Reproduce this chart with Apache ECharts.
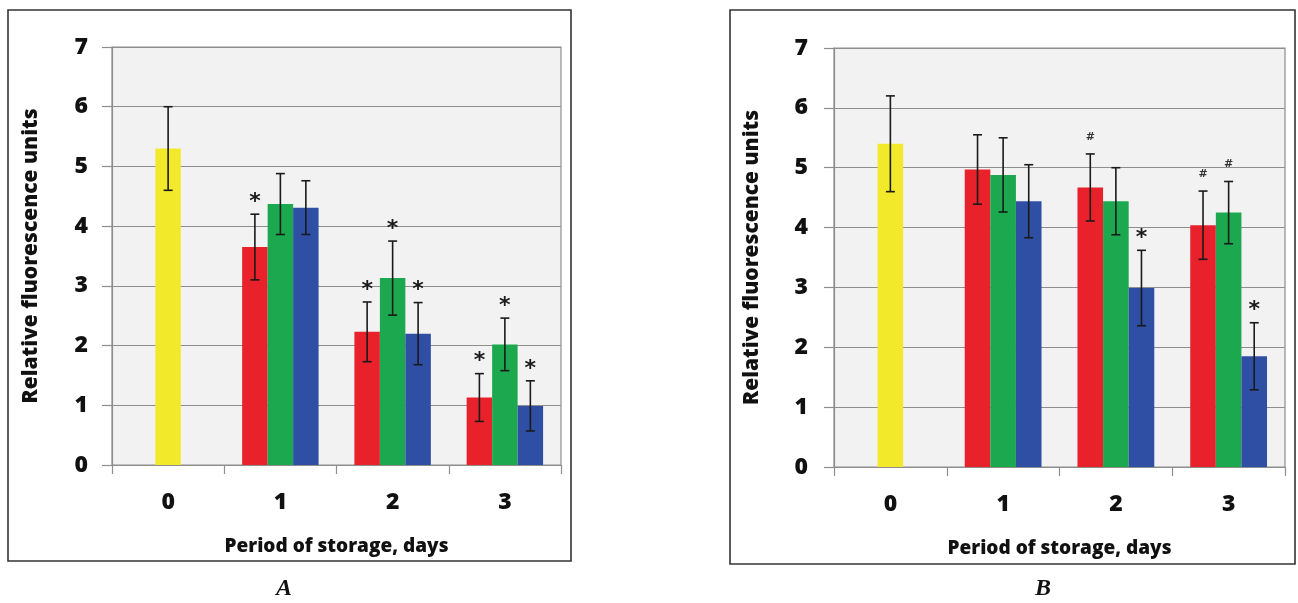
<!DOCTYPE html>
<html><head><meta charset="utf-8">
<script src="https://cdn.jsdelivr.net/npm/echarts@6/dist/echarts.min.js"></script>
<style>html,body{margin:0;padding:0;background:#fff}#c{width:1298px;height:603px}</style>
</head><body><div id="c"></div>
<script>
// ---- data ----
const categories = ['0', '1', '2', '3'];
const xAxisTitle = 'Period of storage, days';
const yAxisTitle = 'Relative fluorescence units';
const panelLabels = ['A', 'B'];

// Panel A
const controlA    = [5.30, null, null, null];
const controlErrA = [0.70, null, null, null];
const redA        = [null, 3.65, 2.23, 1.13];
const redErrA     = [null, 0.55, 0.50, 0.40];
const greenA      = [null, 4.37, 3.13, 2.02];
const greenErrA   = [null, 0.51, 0.62, 0.44];
const blueA       = [null, 4.31, 2.20, 0.99];
const blueErrA    = [null, 0.45, 0.52, 0.42];
const redMarkA    = ['', '*', '*', '*'];
const greenMarkA  = ['', '', '*', '*'];
const blueMarkA   = ['', '', '*', '*'];

// Panel B
const controlB    = [5.40, null, null, null];
const controlErrB = [0.80, null, null, null];
const redB        = [null, 4.97, 4.67, 4.04];
const redErrB     = [null, 0.58, 0.56, 0.57];
const greenB      = [null, 4.88, 4.44, 4.25];
const greenErrB   = [null, 0.62, 0.56, 0.52];
const blueB       = [null, 4.44, 2.99, 1.85];
const blueErrB    = [null, 0.61, 0.63, 0.56];
const redMarkB    = ['', '', '#', '#'];
const greenMarkB  = ['', '', '', '#'];
const blueMarkB   = ['', '', '*', '*'];

// ---- styling ----
const YELLOW = '#f3e92b', RED = '#e8212a', GREEN = '#1ca84e', BLUE = '#2f4fa4';
const GRIDC = '#8e8e8e';
const BAR_FRAC = 0.227;
const FONT = '"Open Sans", "DejaVu Sans", sans-serif';

const chart = echarts.init(document.getElementById('c'));

function xAxes(gridIndex) {
  return [{
    type: 'category', gridIndex: gridIndex, data: categories, boundaryGap: true,
    axisLine: { show: true, lineStyle: { color: GRIDC, width: 1.2 } },
    axisTick: { show: true, length: 9, lineStyle: { color: GRIDC, width: 1.2 } },
    axisLabel: { margin: 26, color: '#111', fontSize: 23, fontWeight: 800, fontFamily: FONT },
    splitLine: { show: false },
    name: xAxisTitle, nameLocation: 'middle', nameGap: 72,
    nameTextStyle: { color: '#111', fontSize: 19, fontWeight: 800, fontFamily: FONT }
  }, {
    type: 'category', gridIndex: gridIndex, data: categories, show: false
  }];
}
function yAxis(gridIndex, labelMargin, nameGap) {
  return {
    type: 'value', gridIndex: gridIndex, min: 0, max: 7, interval: 1,
    axisLine: { show: true, lineStyle: { color: GRIDC, width: 1.2 } },
    axisTick: { show: true, length: 10, lineStyle: { color: GRIDC, width: 1.2 } },
    axisLabel: { margin: labelMargin, color: '#111', fontSize: 23, fontWeight: 800, fontFamily: FONT },
    splitLine: { show: true, lineStyle: { color: GRIDC, width: 1.2 } },
    name: yAxisTitle, nameLocation: 'middle', nameGap: nameGap, nameRotate: 90,
    nameTextStyle: { color: '#111', fontSize: 21, fontWeight: 800, fontFamily: FONT }
  };
}

function barSeries(data, color, xIdx, yIdx) {
  return {
    type: 'bar', data: data.map(v => v == null ? '-' : v),
    xAxisIndex: xIdx, yAxisIndex: yIdx,
    barWidth: (BAR_FRAC * 100) + '%', barGap: '0%',
    itemStyle: { color: color }, silent: true, z: 2
  };
}

function errSeries(vals, errs, marks, slot, xIdx, yIdx) {
  const data = [];
  vals.forEach((v, i) => { if (v != null) data.push([i, v, errs[i]]); });
  return {
    type: 'custom', xAxisIndex: xIdx, yAxisIndex: yIdx, z: 5, silent: true,
    encode: { x: 0, y: 1 },
    data: data,
    renderItem: function (params, api) {
      const i = api.value(0), v = api.value(1), e = api.value(2);
      const band = api.size([1, 0])[0];
      const bw = band * BAR_FRAC;
      const x = api.coord([i, v])[0] + slot * bw;
      const yTop = api.coord([i, v + e])[1];
      const yBot = api.coord([i, v - e])[1];
      const cap = 4.5;
      const st = { stroke: '#1a1a1a', lineWidth: 1.6 };
      const children = [
        { type: 'line', shape: { x1: x, y1: yTop, x2: x, y2: yBot }, style: st },
        { type: 'line', shape: { x1: x - cap, y1: yTop, x2: x + cap, y2: yTop }, style: st },
        { type: 'line', shape: { x1: x - cap, y1: yBot, x2: x + cap, y2: yBot }, style: st }
      ];
      const m = marks ? marks[i] : '';
      if (m === '*') {
        children.push({ type: 'text', style: { text: '*', x: x, y: yTop - 12, align: 'center', verticalAlign: 'middle',
          fill: '#1a1a1a', font: 'bold 22px "DejaVu Sans", sans-serif' } });
      } else if (m === '#') {
        children.push({ type: 'text', style: { text: '#', x: x, y: yTop - 17, align: 'center', verticalAlign: 'middle',
          fill: '#333', font: 'bold 11px "DejaVu Sans", sans-serif' } });
      }
      return { type: 'group', children: children };
    }
  };
}

const gridBase = { show: true, backgroundColor: '#f2f2f2', borderColor: GRIDC, borderWidth: 1.2, containLabel: false, outerBoundsMode: 'none' };

const option = {
  animation: false,
  backgroundColor: '#ffffff',
  grid: [
    Object.assign({ left: 112, top: 47, width: 449, height: 418 }, gridBase),
    Object.assign({ left: 834, top: 48, width: 451, height: 419 }, gridBase)
  ],
  xAxis: [].concat(xAxes(0), xAxes(1)),
  yAxis: [yAxis(0, 24, 70), yAxis(1, 26, 71)],
  series: [
    // Panel A
    barSeries(controlA, YELLOW, 1, 0),
    barSeries(redA, RED, 0, 0),
    barSeries(greenA, GREEN, 0, 0),
    barSeries(blueA, BLUE, 0, 0),
    errSeries(controlA, controlErrA, null, 0, 1, 0),
    errSeries(redA, redErrA, redMarkA, -1, 0, 0),
    errSeries(greenA, greenErrA, greenMarkA, 0, 0, 0),
    errSeries(blueA, blueErrA, blueMarkA, 1, 0, 0),
    // Panel B
    barSeries(controlB, YELLOW, 3, 1),
    barSeries(redB, RED, 2, 1),
    barSeries(greenB, GREEN, 2, 1),
    barSeries(blueB, BLUE, 2, 1),
    errSeries(controlB, controlErrB, null, 0, 3, 1),
    errSeries(redB, redErrB, redMarkB, -1, 2, 1),
    errSeries(greenB, greenErrB, greenMarkB, 0, 2, 1),
    errSeries(blueB, blueErrB, blueMarkB, 1, 2, 1)
  ],
  graphic: [
    { type: 'rect', silent: true, z: -1, shape: { x: 8, y: 10, width: 563, height: 551 },
      style: { fill: 'none', stroke: '#333', lineWidth: 1.6 } },
    { type: 'rect', silent: true, z: -1, shape: { x: 730, y: 10, width: 565, height: 554 },
      style: { fill: 'none', stroke: '#333', lineWidth: 1.6 } },
    { type: 'text', silent: true, style: { text: panelLabels[0], x: 284, y: 589, align: 'center', verticalAlign: 'middle',
      fill: '#111', font: 'italic bold 24px "Liberation Serif", "DejaVu Serif", serif' } },
    { type: 'text', silent: true, style: { text: panelLabels[1], x: 1043, y: 589, align: 'center', verticalAlign: 'middle',
      fill: '#111', font: 'italic bold 24px "Liberation Serif", "DejaVu Serif", serif' } }
  ]
};
chart.setOption(option);
</script>
</body></html>
